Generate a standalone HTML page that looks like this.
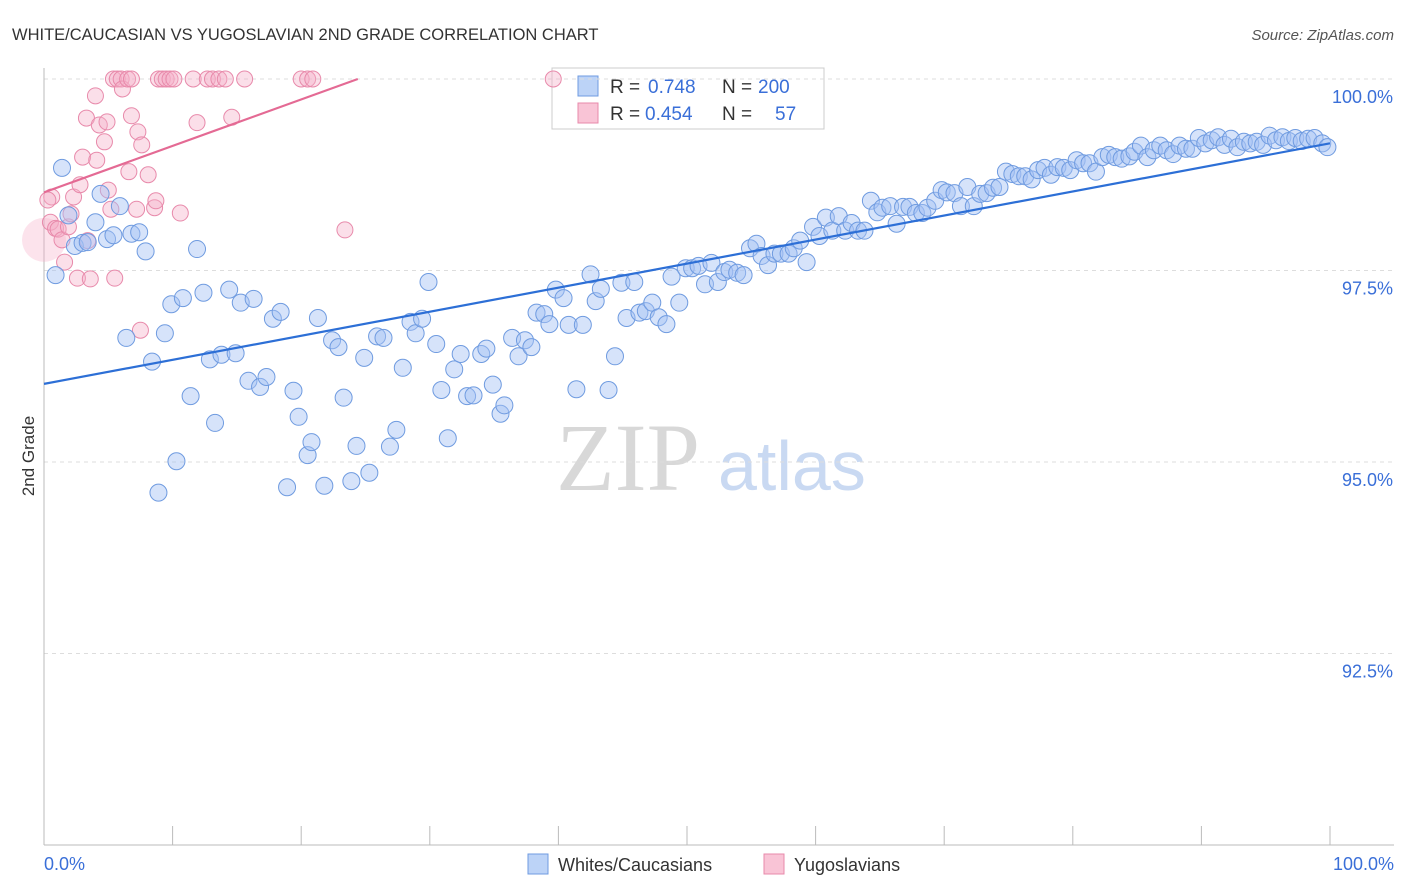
<!DOCTYPE html>
<html><head><meta charset="utf-8">
<style>
body{margin:0;background:#fff;font-family:"Liberation Sans",sans-serif;}
svg{display:block}
</style></head>
<body>
<svg id="chart" width="1406" height="892" xmlns="http://www.w3.org/2000/svg">
<text x="12" y="40" font-size="16.5" fill="#333">WHITE/CAUCASIAN VS YUGOSLAVIAN 2ND GRADE CORRELATION CHART</text>
<text x="1394" y="40" font-size="15" fill="#555" font-style="italic" text-anchor="end">Source: ZipAtlas.com</text>
<text x="556" y="490" font-size="96" fill="#d8d8d8" font-family="Liberation Serif,serif">ZIP</text>
<text x="718" y="490" font-size="70" fill="#c9d9f2">atlas</text>
<text x="34" y="456" font-size="17" fill="#333" transform="rotate(-90 34 456)" text-anchor="middle">2nd Grade</text>
<g id="legend">
<rect x="552" y="68" width="272" height="61" fill="#fff" stroke="#ccc"/>
<rect x="578" y="76" width="20" height="20" fill="#bcd3f7" stroke="#6f9be0"/>
<text x="610" y="93" font-size="19" fill="#333">R =</text>
<text x="648" y="93" font-size="19" fill="#3a6fd8">0.748</text>
<text x="722" y="93" font-size="19" fill="#333">N =</text>
<text x="758" y="93" font-size="19" fill="#3a6fd8">200</text>
<rect x="578" y="103" width="20" height="20" fill="#f9c4d6" stroke="#e88aab"/>
<text x="610" y="120" font-size="19" fill="#333">R =</text>
<text x="645" y="120" font-size="19" fill="#3a6fd8">0.454</text>
<text x="722" y="120" font-size="19" fill="#333">N =</text>
<text x="775" y="120" font-size="19" fill="#3a6fd8">57</text>
</g>
<g id="grid"></g>
<g id="axes"></g>
<g id="marks"></g>
<g>
<rect x="528" y="854" width="20" height="20" fill="#bcd3f7" stroke="#6f9be0"/>
<text x="558" y="871" font-size="18" fill="#333">Whites/Caucasians</text>
<rect x="764" y="854" width="20" height="20" fill="#f9c4d6" stroke="#e88aab"/>
<text x="794" y="871" font-size="18" fill="#333">Yugoslavians</text>
</g>
</svg>
<script>
const yTicks=[100,97.5,95,92.5];
const yTickLabels=["100.0%","97.5%","95.0%","92.5%"];
const xTicks=[0,10,20,30,40,50,60,70,80,90,100];
const blueX=[1.4,1.9,0.9,2.4,3.0,3.4,4.0,4.4,4.9,5.4,5.9,6.4,6.8,7.4,7.9,8.4,8.9,9.4,9.9,10.3,10.8,11.4,11.9,12.4,12.9,13.3,13.8,14.4,14.9,15.3,15.9,16.3,16.8,17.3,17.8,18.4,18.9,19.4,19.8,20.5,20.8,21.3,21.8,22.4,22.9,23.3,23.9,24.3,24.9,25.3,25.9,26.4,26.9,27.4,27.9,28.5,28.9,29.4,29.9,30.5,30.9,31.4,31.9,32.4,32.9,33.4,34.0,34.4,34.9,35.5,35.8,36.4,36.9,37.4,37.9,38.3,38.9,39.3,39.8,40.4,40.8,41.4,41.9,42.5,42.9,43.3,43.9,44.4,44.9,45.3,45.9,46.3,46.8,47.3,47.8,48.4,48.8,49.4,49.9,50.4,50.9,51.4,51.9,52.4,52.9,53.3,53.9,54.4,54.9,55.4,55.8,56.3,56.8,57.3,57.9,58.3,58.8,59.3,59.8,60.3,60.8,61.3,61.8,62.3,62.8,63.3,63.8,64.3,64.8,65.2,65.8,66.3,66.8,67.3,67.8,68.3,68.7,69.3,69.8,70.2,70.8,71.3,71.8,72.3,72.8,73.3,73.8,74.3,74.8,75.3,75.8,76.3,76.8,77.3,77.8,78.3,78.8,79.3,79.8,80.3,80.8,81.3,81.8,82.3,82.8,83.3,83.8,84.4,84.8,85.3,85.8,86.3,86.8,87.3,87.8,88.3,88.8,89.3,89.8,90.3,90.8,91.3,91.8,92.3,92.8,93.3,93.8,94.3,94.8,95.3,95.8,96.3,96.8,97.3,97.8,98.3,98.8,99.4,99.8];
const blueY=[98.84,98.22,97.44,97.82,97.86,97.87,98.13,98.50,97.91,97.96,98.34,96.62,97.98,98.00,97.75,96.31,94.60,96.68,97.06,95.01,97.14,95.86,97.78,97.21,96.34,95.51,96.40,97.25,96.42,97.08,96.06,97.13,95.98,96.11,96.87,96.96,94.67,95.93,95.59,95.09,95.26,96.88,94.69,96.59,96.50,95.84,94.75,95.21,96.36,94.86,96.64,96.62,95.20,95.42,96.23,96.83,96.68,96.87,97.35,96.54,95.94,95.31,96.21,96.41,95.86,95.87,96.41,96.48,96.01,95.63,95.74,96.62,96.38,96.59,96.50,96.95,96.93,96.80,97.25,97.14,96.79,95.95,96.79,97.45,97.10,97.26,95.94,96.38,97.34,96.88,97.35,96.95,96.97,97.08,96.89,96.80,97.42,97.08,97.53,97.53,97.56,97.32,97.60,97.35,97.48,97.51,97.47,97.44,97.79,97.85,97.69,97.57,97.72,97.72,97.72,97.79,97.89,97.61,98.07,97.95,98.19,98.02,98.21,98.02,98.12,98.02,98.02,98.41,98.26,98.32,98.34,98.11,98.33,98.33,98.25,98.25,98.32,98.41,98.55,98.52,98.51,98.34,98.59,98.34,98.50,98.51,98.58,98.59,98.79,98.76,98.73,98.73,98.69,98.81,98.84,98.75,98.85,98.84,98.81,98.94,98.90,98.90,98.79,98.98,99.01,98.98,98.96,98.99,99.05,99.13,98.98,99.07,99.13,99.07,99.02,99.13,99.09,99.09,99.23,99.16,99.20,99.24,99.14,99.22,99.11,99.18,99.16,99.18,99.14,99.26,99.20,99.24,99.19,99.23,99.19,99.22,99.23,99.16,99.11];
const pinkX=[0.6,0.3,0.5,0.9,1.1,1.4,1.6,1.9,2.1,2.3,2.6,2.8,3.0,3.3,3.4,3.6,4.0,4.1,4.3,4.7,4.9,5.0,5.2,5.4,5.5,5.7,6.0,6.1,6.5,6.6,6.8,6.8,7.2,7.3,7.6,8.1,8.6,8.7,8.9,9.2,9.5,9.8,10.1,10.6,11.6,11.9,12.7,13.1,13.6,14.1,14.6,15.6,20.0,20.5,20.9,23.4,39.6,7.5];
const pinkY=[98.46,98.42,98.13,98.05,98.04,97.90,97.61,98.07,98.24,98.46,97.40,98.62,98.98,99.49,97.89,97.39,99.78,98.94,99.40,99.18,99.44,98.55,98.30,100,97.40,100,100,99.87,100,98.79,99.52,100,98.30,99.31,99.14,98.75,98.32,98.41,100,100,100,100,100,98.25,100,99.43,100,100,100,100,99.50,100,100,100,100,98.03,100,96.72];
const bigPinkX=[0], bigPinkY=[97.9];
const blueTrend=[96.02,99.16];
const pinkTrend=[98.52,100.0]; const pinkTrendEnd=24.4;

const X0=44,X1=1330,Y100=79,PXPER=76.6;
const sx=v=>X0+(X1-X0)*v/100;
const sy=v=>Y100+(100-v)*PXPER;
const NS="http://www.w3.org/2000/svg";
function mk(tag,attrs,parent){const e=document.createElementNS(NS,tag);for(const k in attrs)e.setAttribute(k,attrs[k]);parent.appendChild(e);return e;}
const grid=document.getElementById('grid'),axes=document.getElementById('axes'),marks=document.getElementById('marks');
yTicks.forEach((t,i)=>{
  const l=mk('line',{x1:44,x2:1394,y1:sy(t),y2:sy(t),stroke:'#ddd','stroke-dasharray':'4,4'},grid);
  
  
  const tx=mk('text',{x:1393,y:sy(t)+24,'font-size':18,fill:'#3a6fd8','text-anchor':'end'},axes);
  tx.textContent=yTickLabels[i];
  
  
});
const ya=mk('line',{x1:44,x2:44,y1:68,y2:845,stroke:'#bbb'},axes);


const xa=mk('line',{x1:44,x2:1394,y1:845,y2:845,stroke:'#bbb'},axes);


xTicks.forEach(t=>{
  const l=mk('line',{x1:sx(t),x2:sx(t),y1:826,y2:845,stroke:'#bbb'},axes);
  
  
});
const xl0=mk('text',{x:44,y:870,'font-size':18,fill:'#3a6fd8'},axes);xl0.textContent='0.0%';


const xl1=mk('text',{x:1394,y:870,'font-size':18,fill:'#3a6fd8','text-anchor':'end'},axes);xl1.textContent='100.0%';



const bigc=mk('circle',{cx:sx(bigPinkX[0]),cy:sy(bigPinkY[0]),r:22,fill:'rgba(246,176,200,0.35)',stroke:'none'},marks);


pinkX.forEach((x,i)=>{
  const c=mk('circle',{cx:sx(x),cy:sy(pinkY[i]),r:8,fill:'rgba(246,176,200,0.4)',stroke:'#e88aab','stroke-width':1},marks);
  
  
});
blueX.forEach((x,i)=>{
  const c=mk('circle',{cx:sx(x),cy:sy(blueY[i]),r:8.5,fill:'rgba(164,194,244,0.45)',stroke:'#6f9be0','stroke-width':1},marks);
  
  
});
const bt=mk('line',{x1:sx(0),y1:sy(blueTrend[0]),x2:sx(100),y2:sy(blueTrend[1]),stroke:'#2d6fd6','stroke-width':2.2},marks);


const pt=mk('line',{x1:sx(0),y1:sy(pinkTrend[0]),x2:sx(pinkTrendEnd),y2:sy(pinkTrend[1]),stroke:'#e46a94','stroke-width':2.2},marks);


</script>
</body></html>
